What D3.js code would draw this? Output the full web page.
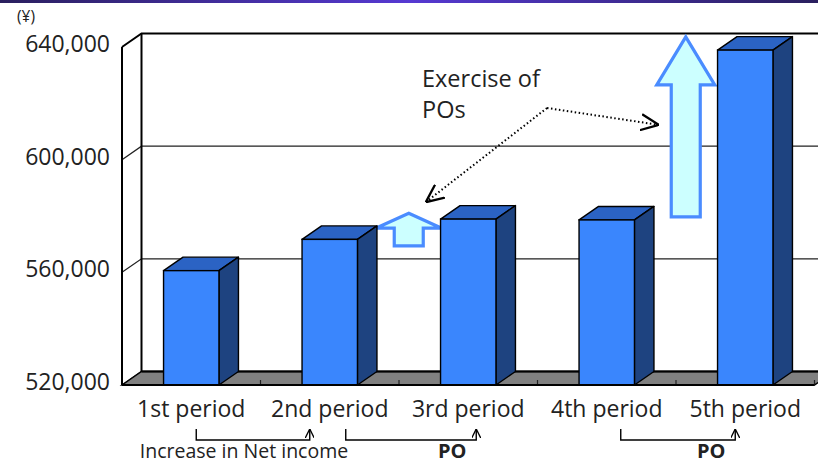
<!DOCTYPE html>
<html>
<head>
<meta charset="utf-8">
<script src="https://cdn.jsdelivr.net/npm/d3@7"></script>
<style>
  html, body { margin: 0; padding: 0; background: #fff; }
  svg { display: block; font-family: "Open Sans", "Noto Sans", sans-serif; }
</style>
</head>
<body>
<svg id="chart" width="818" height="464"></svg>
<script>
// Net assets per period (yen)
const categories = ["1st period", "2nd period", "3rd period", "4th period", "5th period"];
const values = [560600, 571700, 578900, 578600, 638900];
const yTicks = [520000, 560000, 600000, 640000];
const tickLabels = ["520,000", "560,000", "600,000", "640,000"];
const unitLabel = "(¥)";

// Exercise-of-PO jumps shown as block arrows: period boundary index, value from, value to
const poArrowBoundary = [2, 4];
const poArrowFrom = [567000, 577300];
const poArrowTo = [578600, 641200];

// Bracket notes under the axis: start period, end period, label, bold
const noteStart = [0, 1, 3];
const noteEnd = [1, 2, 4];
const noteText = ["Increase in Net income", "PO", "PO"];
const noteBold = [false, true, true];

const svg = d3.select("#chart");
const W = 818;

// 3-D depth offset
const DX = 19.5, DY = -13.5;

const x = d3.scaleBand().domain(categories).range([122, 814.5]).paddingInner(0.6).paddingOuter(0.3);
const y = d3.scaleLinear().domain([520000, 640000]).range([385, 47]);
const x0 = x.range()[0], x1 = x.range()[1];
const step = x.step();
const yMin = y(520000), yMax = y(640000);

// title band
const defs = svg.append("defs");
const grad = defs.append("linearGradient").attr("id", "band").attr("x1", 0).attr("x2", 1);
grad.append("stop").attr("offset", 0).attr("stop-color", "#2a1f5e");
grad.append("stop").attr("offset", 0.5).attr("stop-color", "#5639d2");
grad.append("stop").attr("offset", 1).attr("stop-color", "#2a1f5e");
svg.append("rect").attr("x", 0).attr("y", 0).attr("width", W).attr("height", 3).attr("fill", "url(#band)");

// arrow markers
defs.append("marker").attr("id", "vhead").attr("viewBox", "0 0 10 10")
  .attr("refX", 10).attr("refY", 5).attr("markerWidth", 9).attr("markerHeight", 9)
  .attr("markerUnits", "userSpaceOnUse").attr("orient", "auto")
  .append("path").attr("d", "M0,0 L10,5 L0,10").attr("fill", "none").attr("stroke", "#000").attr("stroke-width", 1.5);
defs.append("marker").attr("id", "bighead").attr("viewBox", "0 0 10 10")
  .attr("refX", 10).attr("refY", 5).attr("markerWidth", 18).attr("markerHeight", 18)
  .attr("markerUnits", "userSpaceOnUse").attr("orient", "auto")
  .append("path").attr("d", "M0,0.5 L10,5 L0,9.5").attr("fill", "none").attr("stroke", "#000").attr("stroke-width", 1.3);

// back wall
svg.append("rect").attr("x", x0 + DX).attr("y", yMax + DY)
  .attr("width", x1 - x0 + 40).attr("height", yMin - yMax).attr("fill", "#fff");

// left side wall
svg.append("path")
  .attr("d", `M${x0},${yMax} L${x0 + DX},${yMax + DY} L${x0 + DX},${yMin + DY} L${x0},${yMin} Z`)
  .attr("fill", "#fff");

// gridlines on back wall and left wall
yTicks.forEach((t, i) => {
  const yy = y(t);
  const top = i === yTicks.length - 1;
  svg.append("path")
    .attr("d", `M${x0},${yy} L${x0 + DX},${yy + DY} L${W + 20},${yy + DY}`)
    .attr("fill", "none").attr("stroke", top ? "#000" : "#222")
    .attr("stroke-width", top ? 2 : 1.3);
});
// back wall left edge
svg.append("line").attr("x1", x0 + DX).attr("x2", x0 + DX).attr("y1", yMax + DY).attr("y2", yMin + DY)
  .attr("stroke", "#000").attr("stroke-width", 2);

// floor
svg.append("path")
  .attr("d", `M${x0},${yMin} L${x0 + DX},${yMin + DY} L${x1 + DX},${yMin + DY} L${x1},${yMin} Z`)
  .attr("fill", "#808080").attr("stroke", "#000").attr("stroke-width", 1.5);
svg.append("line").attr("x1", x0 + DX).attr("x2", x1 + DX).attr("y1", yMin + DY).attr("y2", yMin + DY)
  .attr("stroke", "#000").attr("stroke-width", 2.2);

// category boundary ticks on the floor
d3.range(1, categories.length + 1).forEach(i => {
  const xx = x0 + i * step;
  svg.append("line").attr("x1", xx).attr("x2", xx).attr("y1", yMin - 5).attr("y2", yMin)
    .attr("stroke", "#222").attr("stroke-width", 1.2);
});

// front value axis
svg.append("line").attr("x1", x0).attr("x2", x0).attr("y1", yMax).attr("y2", yMin)
  .attr("stroke", "#000").attr("stroke-width", 2);

// block arrows (exercise of POs)
function blockArrow(cx, yTop, yBot, headW, headH, shaftW) {
  const hw = headW / 2, sw = shaftW / 2;
  return `M${cx},${yTop} L${cx + hw},${yTop + headH} L${cx + sw},${yTop + headH} L${cx + sw},${yBot}` +
         ` L${cx - sw},${yBot} L${cx - sw},${yTop + headH} L${cx - hw},${yTop + headH} Z`;
}
const arrowCenters = [];
poArrowBoundary.forEach((b, i) => {
  const cx = x0 + b * step + DX / 2;
  const yTop = y(poArrowTo[i]) + DY / 2;
  const yBot = y(poArrowFrom[i]) + DY / 2;
  const small = (yBot - yTop) < 60;
  arrowCenters.push({ cx, yTop, yBot });
  svg.append("path")
    .attr("d", blockArrow(cx, yTop, yBot, small ? 66 : 58, small ? 15 : 48, 29))
    .attr("fill", "#ccffff").attr("stroke", "#4a8cff").attr("stroke-width", 3.2)
    .attr("stroke-linejoin", "miter");
});

// bars
const FRONT = "#3a86fd", TOP = "#2b63c4", SIDE = "#1e4380";
const bars = svg.append("g");
categories.forEach((c, i) => {
  const bx = x(c), bw = x.bandwidth(), by = y(values[i]);
  const g = bars.append("g");
  g.append("path")
    .attr("d", `M${bx},${by} L${bx + DX},${by + DY} L${bx + bw + DX},${by + DY} L${bx + bw},${by} Z`)
    .attr("fill", TOP).attr("stroke", "#000").attr("stroke-width", 1.4).attr("stroke-linejoin", "round");
  g.append("path")
    .attr("d", `M${bx + bw},${by} L${bx + bw + DX},${by + DY} L${bx + bw + DX},${yMin + DY} L${bx + bw},${yMin} Z`)
    .attr("fill", SIDE).attr("stroke", "#000").attr("stroke-width", 1.4).attr("stroke-linejoin", "round");
  g.append("rect").attr("x", bx).attr("y", by).attr("width", bw).attr("height", yMin - by)
    .attr("fill", FRONT).attr("stroke", "#000").attr("stroke-width", 1.4);
});

// front floor edge drawn over bar bottoms
svg.append("line").attr("x1", x0).attr("x2", x1).attr("y1", yMin).attr("y2", yMin)
  .attr("stroke", "#000").attr("stroke-width", 2);

// value axis labels
svg.append("g").selectAll("text").data(yTicks).join("text")
  .attr("x", 110).attr("y", d => y(d) + 5)
  .attr("text-anchor", "end").attr("font-size", 23).attr("fill", "#222")
  .text((d, i) => tickLabels[i]);
svg.append("text").attr("x", 17).attr("y", 22).attr("font-size", 15.5).attr("fill", "#222").text(unitLabel);

// category labels
svg.append("g").selectAll("text").data(categories).join("text")
  .attr("x", d => x(d) + x.bandwidth() / 2).attr("y", 417)
  .attr("text-anchor", "middle").attr("font-size", 23).attr("fill", "#222")
  .text(d => d);

// callout text and dotted leaders
const callX = 422, callY = 87;
svg.append("text").attr("x", callX).attr("y", callY).attr("font-size", 23.5).attr("fill", "#222").text("Exercise of");
svg.append("text").attr("x", callX).attr("y", callY + 31).attr("font-size", 23.5).attr("fill", "#222").text("POs");
const hub = [callX + 125, callY + 21];
const aSmall = arrowCenters[0], aBig = arrowCenters[1];
[[aSmall.cx + 17, aSmall.yTop - 11], [aBig.cx - 27, aBig.yTop + 88]].forEach(tip => {
  svg.append("line").attr("x1", hub[0]).attr("y1", hub[1]).attr("x2", tip[0]).attr("y2", tip[1])
    .attr("stroke", "#000").attr("stroke-width", 2).attr("stroke-dasharray", "1.5,2.5")
    .attr("marker-end", "url(#bighead)");
});

// bracket notes
const bracketTop = 429, bracketBot = 440;
noteStart.forEach((s, i) => {
  const offs = [[5, -20], [16, 8], [14, -10]][i];
  const xa = x(categories[s]) + x.bandwidth() / 2 + offs[0];
  const xb = x(categories[noteEnd[i]]) + x.bandwidth() / 2 + offs[1];
  svg.append("path")
    .attr("d", `M${xa},${bracketTop} L${xa},${bracketBot} L${xb},${bracketBot} L${xb},${bracketTop}`)
    .attr("fill", "none").attr("stroke", "#000").attr("stroke-width", 1.4)
    .attr("marker-end", "url(#vhead)");
  const tx = noteBold[i] ? xb - 24 : (xa + xb) / 2 - 9;
  svg.append("text").attr("x", tx).attr("y", 458)
    .attr("text-anchor", "middle")
    .attr("font-size", noteBold[i] ? 20 : 19.5)
    .attr("font-weight", noteBold[i] ? "bold" : "normal")
    .attr("fill", "#222").text(noteText[i]);
});
</script>
</body>
</html>
